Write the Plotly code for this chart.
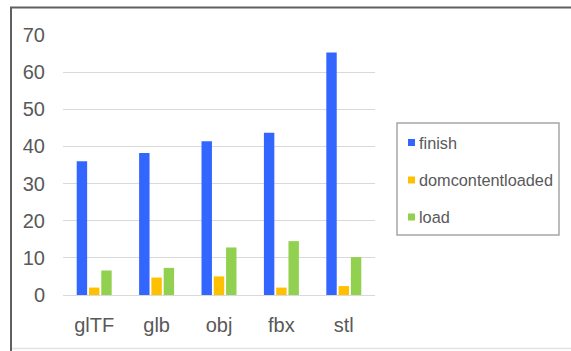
import plotly.graph_objects as go

# Page-load timings per 3D model format
formats = ["glTF", "glb", "obj", "fbx", "stl"]
finish = [36.0, 38.2, 41.4, 43.7, 65.3]
domcontentloaded = [2.0, 4.7, 5.0, 2.0, 2.4]
load = [6.6, 7.3, 12.8, 14.5, 10.2]

series_names = ["finish", "domcontentloaded", "load"]
series_colors = ["#3366FF", "#FFC000", "#92D050"]
y_ticks = [0, 10, 20, 30, 40, 50, 60, 70]

W, H = 571, 351
M_L, M_R, M_T, M_B = 63, 196, 35, 56
PW, PH = W - M_L - M_R, H - M_T - M_B

text_color = "#595959"
font_family = "Arial, Liberation Sans, sans-serif"


def px_x(px):
    return (px - M_L) / PW


def px_y(py):
    return (H - M_B - py) / PH


fig = go.Figure()
for name, vals, col in zip(series_names, [finish, domcontentloaded, load], series_colors):
    fig.add_trace(go.Bar(x=formats, y=vals, name=name, marker_color=col,
                         marker_line_width=0, showlegend=False))

shapes = []
annotations = []

# outer frame: dark left and top edges, faint bottom edge
shapes.append(dict(type="line", xref="paper", yref="paper",
                   x0=px_x(11), x1=px_x(11), y0=px_y(7.5), y1=px_y(352),
                   line=dict(color="#606060", width=2)))
shapes.append(dict(type="line", xref="paper", yref="paper",
                   x0=px_x(10), x1=px_x(572), y0=px_y(7.5), y1=px_y(7.5),
                   line=dict(color="#606060", width=2)))
shapes.append(dict(type="line", xref="paper", yref="paper",
                   x0=px_x(12), x1=px_x(572), y0=px_y(348.5), y1=px_y(348.5),
                   line=dict(color="#e3e3e3", width=1.5)))

# legend box
shapes.append(dict(type="rect", xref="paper", yref="paper",
                   x0=px_x(397), x1=px_x(559), y0=px_y(123), y1=px_y(235),
                   line=dict(color="#a6a6a6", width=1.5), fillcolor="white"))
legend_y = [142.5, 180, 217]
for name, col, ly in zip(series_names, series_colors, legend_y):
    shapes.append(dict(type="rect", xref="paper", yref="paper",
                       x0=px_x(408), x1=px_x(415), y0=px_y(ly - 3.5), y1=px_y(ly + 3.5),
                       line=dict(width=0), fillcolor=col))
    annotations.append(dict(xref="paper", yref="paper", x=px_x(417), y=px_y(ly),
                            xanchor="left", yanchor="middle", showarrow=False,
                            text=name, font=dict(size=16.3, color=text_color,
                                                 family=font_family)))

fig.update_layout(
    width=W, height=H,
    margin=dict(l=M_L, r=M_R, t=M_T, b=M_B, pad=0),
    paper_bgcolor="white", plot_bgcolor="white",
    barmode="group", bargap=0.41, bargroupgap=0.15,
    font=dict(family=font_family, size=20, color=text_color),
    shapes=shapes, annotations=annotations,
    showlegend=False,
)
fig.update_xaxes(showgrid=False, showline=False, zeroline=False,
                 ticks="outside", ticklen=12, tickcolor="rgba(0,0,0,0)",
                 tickfont=dict(size=20, color=text_color))
fig.update_yaxes(range=[0, 70], tickvals=y_ticks, showgrid=True,
                 gridcolor="#d9d9d9", gridwidth=1.2, zeroline=True,
                 zerolinecolor="#d9d9d9", zerolinewidth=1.2, showline=False,
                 ticks="outside", ticklen=13, tickcolor="rgba(0,0,0,0)",
                 tickfont=dict(size=20, color=text_color))

fig.write_html("out.html")
